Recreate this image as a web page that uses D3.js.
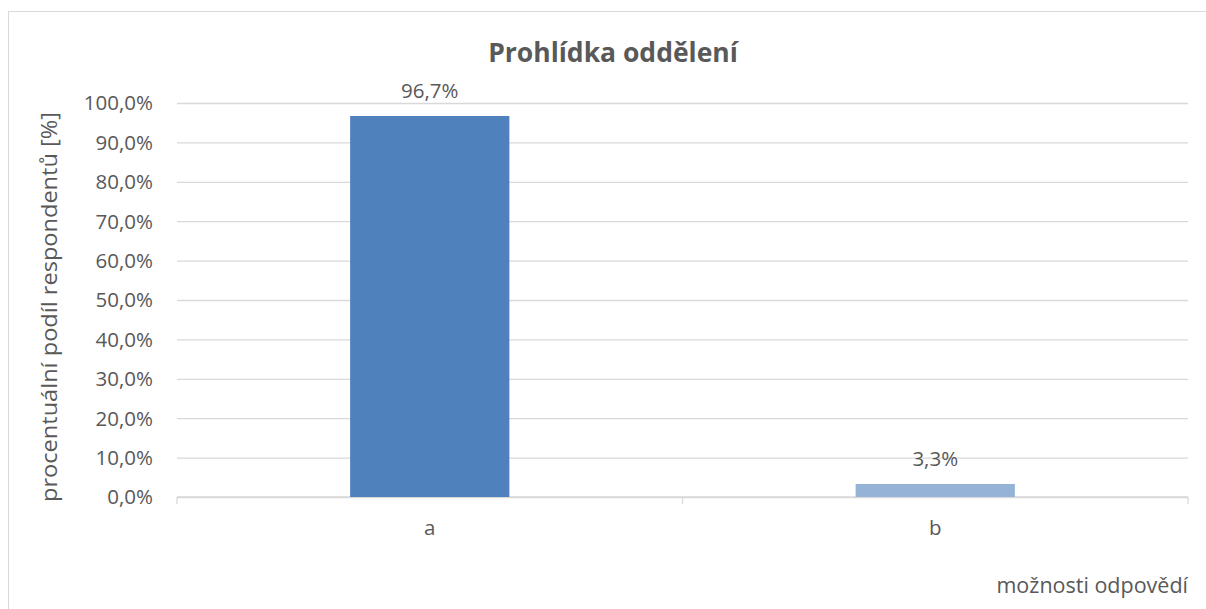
<!DOCTYPE html>
<html>
<head>
<meta charset="utf-8">
<script src="https://cdn.jsdelivr.net/npm/d3@7"></script>
<style>
  html, body { margin: 0; padding: 0; background: #ffffff; }
  svg { display: block; }
  text { font-family: "Open Sans", "Noto Sans", sans-serif; fill: #595959; }
</style>
</head>
<body>
<svg id="chart" width="1206" height="609"></svg>
<script>
// Survey answers and their share of respondents (%)
const categories = ["a", "b"];
const shares = [96.7, 3.3];
const yTicks = [0, 10, 20, 30, 40, 50, 60, 70, 80, 90, 100];
const barColors = ["#4f81bd", "#95b3d7"];

const titleText = "Prohlídka oddělení";
const yTitleText = "procentuální podíl respondentů [%]";
const xTitleText = "možnosti odpovědí";

const W = 1206, H = 609;
const plot = { left: 177, right: 1188, top: 103, bottom: 497 };
const gridColor = "#d9d9d9";
const labelSize = "20.5px";

const fmt = v => v.toFixed(1).replace(".", ",") + "%";

const svg = d3.select("#chart");

// chart frame
svg.append("rect")
  .attr("x", 8.5).attr("y", 11.5)
  .attr("width", 1210).attr("height", 640)
  .attr("fill", "#ffffff")
  .attr("stroke", gridColor).attr("stroke-width", 1);

const x = d3.scaleBand()
  .domain(categories)
  .range([plot.left, plot.right])
  .paddingInner(0.685)
  .paddingOuter(0.3425);

const y = d3.scaleLinear()
  .domain([0, 100])
  .range([plot.bottom, plot.top]);

// horizontal gridlines + tick labels
const yAxis = d3.axisLeft(y)
  .tickValues(yTicks)
  .tickSize(-(plot.right - plot.left))
  .tickPadding(24)
  .tickFormat(fmt);

const gy = svg.append("g")
  .attr("transform", `translate(${plot.left},0)`)
  .call(yAxis);
gy.select(".domain").remove();
gy.selectAll(".tick line")
  .attr("stroke", gridColor).attr("stroke-width", 1.3);
gy.selectAll(".tick text")
  .attr("fill", "#595959")
  .style("font-size", labelSize)
  .attr("dy", "0.34em");

// category axis with ticks between categories
const boundaries = [plot.left, (x("a") + x.bandwidth() + x("b")) / 2, plot.right];
const gx = svg.append("g");
gx.append("line")
  .attr("x1", plot.left).attr("x2", plot.right)
  .attr("y1", plot.bottom).attr("y2", plot.bottom)
  .attr("stroke", gridColor).attr("stroke-width", 1.3);
gx.selectAll("line.tk")
  .data(boundaries)
  .join("line")
  .attr("class", "tk")
  .attr("x1", d => d).attr("x2", d => d)
  .attr("y1", plot.bottom).attr("y2", plot.bottom + 7)
  .attr("stroke", gridColor).attr("stroke-width", 1.3);
gx.selectAll("text.cat")
  .data(categories)
  .join("text")
  .attr("class", "cat")
  .attr("x", d => x(d) + x.bandwidth() / 2)
  .attr("y", 535)
  .attr("text-anchor", "middle")
  .style("font-size", labelSize)
  .text(d => d);

// bars
svg.append("g").selectAll("rect")
  .data(categories)
  .join("rect")
  .attr("x", d => x(d))
  .attr("width", x.bandwidth())
  .attr("y", (d, i) => y(shares[i]))
  .attr("height", (d, i) => y(0) - y(shares[i]))
  .attr("fill", (d, i) => barColors[i]);

// value labels
svg.append("g").selectAll("text")
  .data(categories)
  .join("text")
  .attr("x", d => x(d) + x.bandwidth() / 2)
  .attr("y", (d, i) => y(shares[i]) - 18)
  .attr("text-anchor", "middle")
  .style("font-size", labelSize)
  .attr("fill", "#404040")
  .text((d, i) => fmt(shares[i]));

// title
svg.append("text")
  .attr("x", 613).attr("y", 62)
  .attr("text-anchor", "middle")
  .style("font-size", "26.5px")
  .style("font-weight", "bold")
  .text(titleText);

// axis titles
svg.append("text")
  .attr("transform", `translate(57,${(plot.top + plot.bottom) / 2 + 7}) rotate(-90)`)
  .attr("text-anchor", "middle")
  .attr("textLength", 390)
  .attr("lengthAdjust", "spacingAndGlyphs")
  .style("font-size", "21.5px")
  .text(yTitleText);

svg.append("text")
  .attr("x", plot.right).attr("y", 593)
  .attr("text-anchor", "end")
  .style("font-size", "21.5px")
  .text(xTitleText);
</script>
</body>
</html>
